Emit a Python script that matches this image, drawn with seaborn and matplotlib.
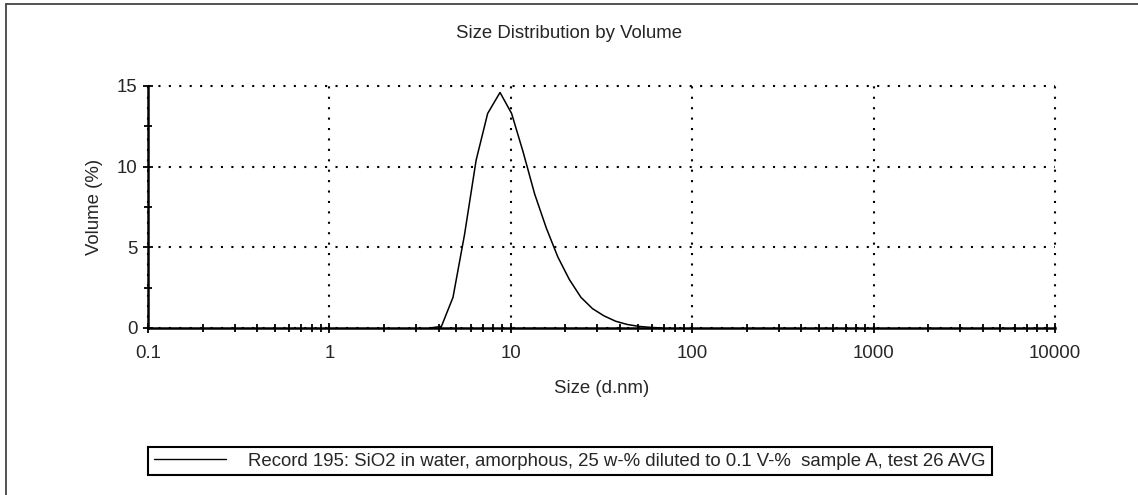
import matplotlib
matplotlib.use("Agg")
import matplotlib.pyplot as plt
import numpy as np
import pandas as pd
import seaborn as sns
from matplotlib.lines import Line2D
from matplotlib.ticker import FixedLocator, FixedFormatter, LogLocator, NullFormatter

# Particle size classes (d.nm) and volume distribution (%)
size_nm = [3.580, 4.145, 4.801, 5.560, 6.439, 7.456, 8.721, 10.10, 11.70, 13.54,
           15.69, 18.17, 21.04, 24.36, 28.21, 32.67, 37.84, 43.82, 50.75, 58.77, 68.06]
volume_pct = [0.0, 0.1, 1.9, 5.8, 10.4, 13.3, 14.6, 13.3, 10.9, 8.3,
              6.2, 4.4, 3.0, 1.9, 1.2, 0.75, 0.42, 0.22, 0.1, 0.04, 0.0]

x_ticks = [0.1, 1, 10, 100, 1000, 10000]
x_tick_labels = ["0.1", "1", "10", "100", "1000", "10000"]
y_ticks = [0, 5, 10, 15]
y_tick_labels = ["0", "5", "10", "15"]

title = "Size Distribution by Volume"
x_label = "Size (d.nm)"
y_label = "Volume (%)"
record_label = "Record 195: SiO2 in water, amorphous, 25 w-% diluted to 0.1 V-%  sample A, test 26 AVG"

df = pd.DataFrame({"size": size_nm, "volume": volume_pct})

sns.set_style("white")
plt.rcParams["font.family"] = ["Liberation Sans", "DejaVu Sans"]
FS = 13.4

W, H = 1138, 495
fig = plt.figure(figsize=(W / 100, H / 100), dpi=100)
ax = fig.add_axes([148 / W, 1 - 328 / H, (1055 - 148) / W, (328 - 86) / H])

sns.lineplot(data=df, x="size", y="volume", ax=ax, color="black", linewidth=1.1,
             sort=False, estimator=None)

ax.set_xscale("log")
ax.set_xlim(0.1, 10000)
ax.set_ylim(0, 15)

ax.xaxis.set_major_locator(FixedLocator(x_ticks))
ax.xaxis.set_major_formatter(FixedFormatter(x_tick_labels))
ax.xaxis.set_minor_locator(LogLocator(base=10, subs=np.arange(2, 10)))
ax.xaxis.set_minor_formatter(NullFormatter())
ax.yaxis.set_major_locator(FixedLocator(y_ticks))
ax.yaxis.set_major_formatter(FixedFormatter(y_tick_labels))
ax.yaxis.set_minor_locator(FixedLocator([2.5, 7.5, 12.5]))

ax.tick_params(axis="both", which="both", direction="inout", color="black", width=1.3,
               bottom=True, left=True, top=False, right=False)
ax.tick_params(axis="both", which="major", length=7, labelsize=FS)
ax.tick_params(axis="both", which="minor", length=6)
ax.tick_params(axis="x", which="major", pad=9)
ax.tick_params(axis="y", which="major", pad=4)

for side in ("top", "right"):
    ax.spines[side].set_visible(False)
for side in ("left", "bottom"):
    ax.spines[side].set_color("black")
    ax.spines[side].set_linewidth(1.8)

ax.grid(True, which="major", color="black", linestyle=(0, (1, 4)), linewidth=1.5)
ax.grid(False, which="minor")
for gl in ax.get_xgridlines() + ax.get_ygridlines():
    gl.set_clip_on(False)

ax.set_xlabel(x_label, fontsize=FS, labelpad=13)
ax.set_ylabel(y_label, fontsize=FS, labelpad=10)

fig.text(0.5, 1 - 34 / H, title, ha="center", va="center", fontsize=FS)

handle = Line2D([], [], color="black", linewidth=1.0)
leg = fig.legend([handle], [record_label], loc="upper left",
                 bbox_to_anchor=(148 / W, 1 - 447 / H), borderaxespad=0,
                 fontsize=FS, handlelength=3.9, handletextpad=1.2,
                 borderpad=0.3, fancybox=False, framealpha=1)
leg.get_frame().set_edgecolor("black")
leg.get_frame().set_linewidth(1.5)

# Outer frame edges of the report panel
fig.add_artist(Line2D([6 / W, 6 / W], [0, 1 - 4 / H], transform=fig.transFigure,
                      color="#444444", linewidth=1.3))
fig.add_artist(Line2D([6 / W, 1], [1 - 4 / H, 1 - 4 / H], transform=fig.transFigure,
                      color="#444444", linewidth=1.3))

fig.savefig("out.png", dpi=100)
